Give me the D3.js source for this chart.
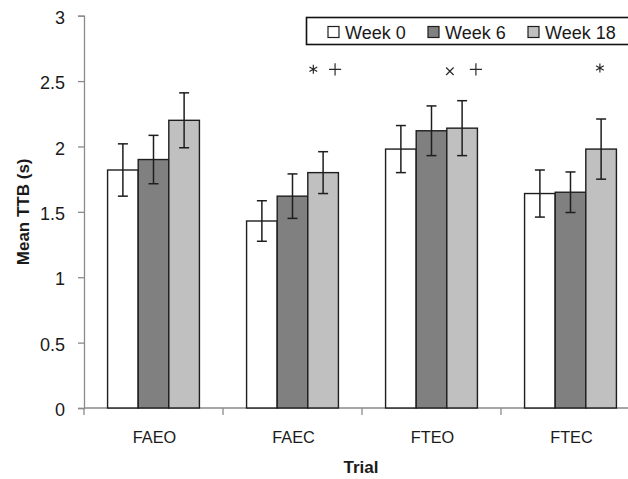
<!DOCTYPE html>
<html>
<head>
<meta charset="utf-8">
<script src="https://cdn.jsdelivr.net/npm/d3@7"></script>
<style>
  html, body { margin: 0; padding: 0; background: #fff; }
  svg { display: block; }
  text { font-family: "Liberation Sans", Arial, sans-serif; fill: #1a1a1a; }
</style>
</head>
<body>
<svg id="chart" width="628" height="479"></svg>
<script>
// Trial conditions and time points
const trials = ["FAEO", "FAEC", "FTEO", "FTEC"];
const seriesNames = ["Week 0", "Week 6", "Week 18"];

// Mean time-to-boundary (s) per trial, one array per time point
const week0 = [1.82, 1.43, 1.98, 1.64];
const week6 = [1.90, 1.62, 2.12, 1.65];
const week18 = [2.20, 1.80, 2.14, 1.98];

// Error bar half-widths (s)
const err0 = [0.20, 0.155, 0.18, 0.18];
const err6 = [0.185, 0.17, 0.19, 0.155];
const err18 = [0.21, 0.16, 0.21, 0.23];

// Y axis tick values
const yTicks = [0, 0.5, 1, 1.5, 2, 2.5, 3];

// Significance markers: trial, marker type, shift from the trial centre in bar widths, height (s)
const markTrial = ["FAEC", "FAEC", "FTEO", "FTEO", "FTEC"];
const markType = ["asterisk", "plus", "times", "plus", "asterisk"];
const markShift = [0.68, 1.39, 0.60, 1.45, 0.96];
const markLevel = [2.59, 2.59, 2.575, 2.59, 2.60];

const seriesValues = [week0, week6, week18];
const seriesErrors = [err0, err6, err18];
const fills = ["#ffffff", "#808080", "#c0c0c0"];

const svg = d3.select("#chart");

const plot = { left: 84, right: 640, top: 15.7, bottom: 408 };

const y = d3.scaleLinear().domain([0, 3]).range([plot.bottom, plot.top]);
const x0 = d3.scaleBand().domain(trials).range([plot.left, plot.right]).padding(0);
const x1 = d3.scaleBand().domain(seriesNames).range([0, x0.bandwidth()])
  .paddingInner(0).paddingOuter(0.77);

const axisColor = "#8a8a8a";

// Y axis
const yAxis = svg.append("g")
  .attr("transform", `translate(${plot.left},0)`)
  .call(d3.axisLeft(y).tickValues(yTicks).tickSize(6).tickPadding(13)
    .tickFormat(d3.format("~g")));
yAxis.select(".domain").attr("stroke", axisColor).attr("stroke-width", 1.3);
yAxis.selectAll(".tick line").attr("stroke", axisColor).attr("stroke-width", 1.3);
yAxis.selectAll(".tick text")
  .attr("font-size", 18)
  .attr("font-family", "Liberation Sans, Arial, sans-serif")
  .attr("fill", "#1a1a1a")
  .attr("dy", "0.42em");

// X axis: ticks at the band boundaries, labels centred in each band
const xAxis = svg.append("g").attr("transform", `translate(0,${plot.bottom})`);
xAxis.append("line")
  .attr("x1", plot.left).attr("x2", plot.right)
  .attr("stroke", axisColor).attr("stroke-width", 1.3);
xAxis.selectAll("line.tk")
  .data(trials.concat(["end"]))
  .join("line")
  .attr("class", "tk")
  .attr("x1", (d, i) => i < trials.length ? x0(d) : x0(trials[trials.length - 1]) + x0.bandwidth())
  .attr("x2", (d, i) => i < trials.length ? x0(d) : x0(trials[trials.length - 1]) + x0.bandwidth())
  .attr("y1", 0).attr("y2", 7)
  .attr("stroke", axisColor).attr("stroke-width", 1.3);
xAxis.selectAll("text")
  .data(trials)
  .join("text")
  .attr("x", d => x0(d) + x0.bandwidth() / 2 + 1)
  .attr("y", 35)
  .attr("text-anchor", "middle")
  .attr("font-size", 16.3)
  .text(d => d);

// Bars
const groups = svg.append("g").selectAll("g")
  .data(trials)
  .join("g")
  .attr("transform", d => `translate(${x0(d)},0)`);

groups.selectAll("rect")
  .data((d, ti) => seriesNames.map((s, si) => ({ s, si, v: seriesValues[si][ti] })))
  .join("rect")
  .attr("x", d => x1(d.s))
  .attr("y", d => y(d.v))
  .attr("width", x1.bandwidth())
  .attr("height", d => y(0) - y(d.v))
  .attr("fill", d => fills[d.si])
  .attr("stroke", "#1e1e1e")
  .attr("stroke-width", 1.4);

// Error bars
const capHalf = 5;
const eb = groups.selectAll("g.err")
  .data((d, ti) => seriesNames.map((s, si) => ({
    s, v: seriesValues[si][ti], e: seriesErrors[si][ti]
  })))
  .join("g")
  .attr("class", "err")
  .attr("stroke", "#1e1e1e")
  .attr("stroke-width", 1.5);
eb.append("line")
  .attr("x1", d => x1(d.s) + x1.bandwidth() / 2)
  .attr("x2", d => x1(d.s) + x1.bandwidth() / 2)
  .attr("y1", d => y(d.v + d.e))
  .attr("y2", d => y(d.v - d.e));
eb.append("line")
  .attr("x1", d => x1(d.s) + x1.bandwidth() / 2 - capHalf)
  .attr("x2", d => x1(d.s) + x1.bandwidth() / 2 + capHalf)
  .attr("y1", d => y(d.v + d.e))
  .attr("y2", d => y(d.v + d.e));
eb.append("line")
  .attr("x1", d => x1(d.s) + x1.bandwidth() / 2 - capHalf)
  .attr("x2", d => x1(d.s) + x1.bandwidth() / 2 + capHalf)
  .attr("y1", d => y(d.v - d.e))
  .attr("y2", d => y(d.v - d.e));

// Significance markers
const symbolFor = {
  asterisk: { type: d3.symbolAsterisk, size: 56 },
  plus: { type: d3.symbolPlus, size: 50 },
  times: { type: d3.symbolTimes, size: 38 }
};
svg.append("g").selectAll("path")
  .data(markTrial.map((t, i) => ({ t, k: markType[i], dx: markShift[i], v: markLevel[i] })))
  .join("path")
  .attr("transform", d => `translate(${x0(d.t) + x0.bandwidth() / 2 + d.dx * x1.bandwidth()},${y(d.v)})`)
  .attr("d", d => d3.symbol(symbolFor[d.k].type, symbolFor[d.k].size)())
  .attr("fill", "none")
  .attr("stroke", "#2a2a2a")
  .attr("stroke-width", 1.2);

// Axis titles
svg.append("text")
  .attr("transform", `translate(29,${(plot.top + plot.bottom) / 2}) rotate(-90)`)
  .attr("text-anchor", "middle")
  .attr("font-size", 17)
  .attr("font-weight", "bold")
  .attr("fill", "#000")
  .text("Mean TTB (s)");

svg.append("text")
  .attr("x", 361)
  .attr("y", 473)
  .attr("text-anchor", "middle")
  .attr("font-size", 17)
  .attr("font-weight", "bold")
  .attr("fill", "#000")
  .text("Trial");

// Legend
const legend = svg.append("g");
legend.append("rect")
  .attr("x", 306.5).attr("y", 17.5)
  .attr("width", 340).attr("height", 27)
  .attr("fill", "#fff")
  .attr("stroke", "#111")
  .attr("stroke-width", 1.6);
const legendX = [328, 428, 528];
const items = legend.selectAll("g.item")
  .data(seriesNames)
  .join("g")
  .attr("class", "item")
  .attr("transform", (d, i) => `translate(${legendX[i]},0)`);
items.append("rect")
  .attr("x", 0).attr("y", 26.5)
  .attr("width", 11).attr("height", 11)
  .attr("fill", (d, i) => fills[i])
  .attr("stroke", "#1e1e1e")
  .attr("stroke-width", 1.2);
items.append("text")
  .attr("x", 17).attr("y", 38.5)
  .attr("font-size", 18)
  .text(d => d);
</script>
</body>
</html>
